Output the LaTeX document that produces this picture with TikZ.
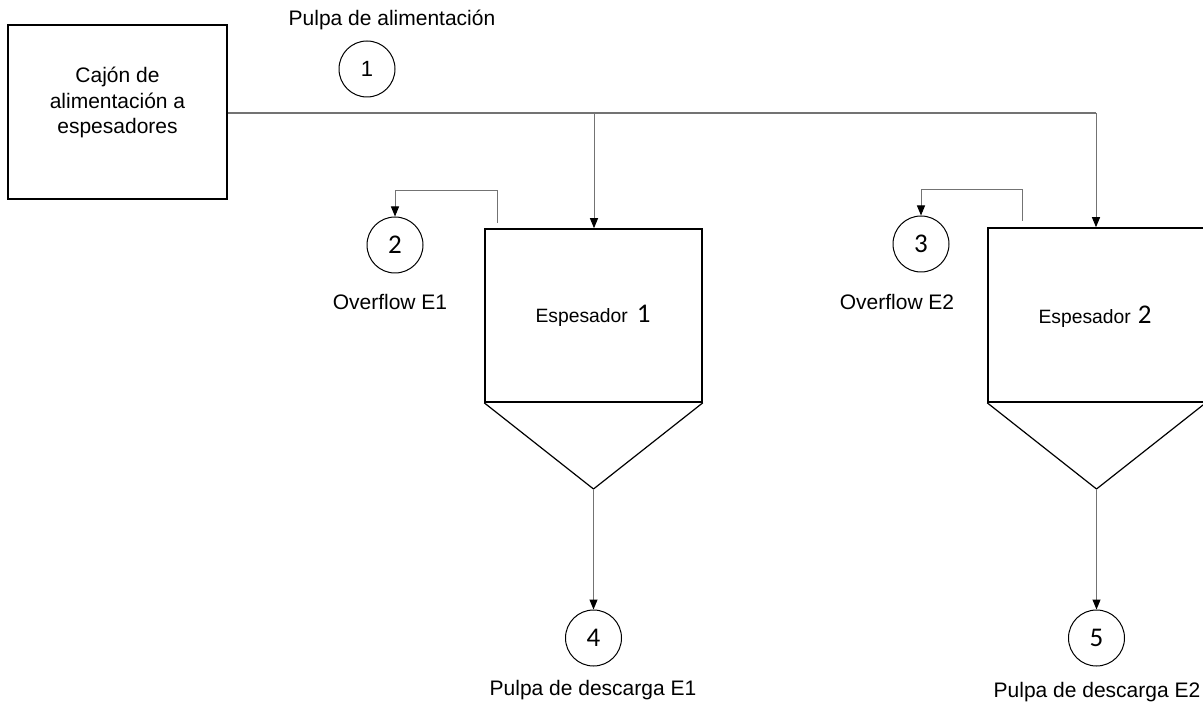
\documentclass[tikz,border=0pt]{standalone}
\usepackage{fontspec}
\setmainfont{Liberation Sans}
\newfontfamily\calib{Carlito}
\usetikzlibrary{arrows.meta,calc}
\begin{document}
\begin{tikzpicture}[x=1pt,y=-1pt,
  unitbox/.style={draw=black,line width=1.6pt,inner sep=0pt},
  stream/.style={draw=black,circle,line width=1pt,minimum size=56pt,inner sep=0pt,font=\calib\fontsize{27}{30}\selectfont},
  lbl/.style={font=\fontsize{21}{25.5}\selectfont,inner sep=0pt},
  pipe/.style={draw=black!55,line width=1pt},
  arr/.style={pipe,-{Triangle[length=10pt,width=8pt,color=black]}},
  eslbl/.style={inner sep=0pt,font=\fontsize{19.3}{22}\selectfont}
]
\useasboundingbox (0,0) rectangle (1203,703);
\fill[white] (0,0) rectangle (1203,703);

% feed box
\node[unitbox,minimum width=219pt,minimum height=174pt] (cajon) at (117.5,112) {};
\node[lbl,align=center] (cajontxt) at (117.5,102.5) {Cajón de\\alimentación a\\espesadores};

% stream 1
\node[stream,font=\fontsize{22}{24}\selectfont] (c1) at (367,69) {1};
\node[lbl] (l1) at (392,20) {Pulpa de alimentación};

% thickeners
\node[unitbox,minimum width=217pt,minimum height=173pt] (esp1) at (593.5,315.5) {};
\node[unitbox,minimum width=217pt,minimum height=174pt] (esp2) at (1096.5,315) {};
\coordinate (apex1) at (593.5,489);
\coordinate (apex2) at (1096.5,489);
\draw[black,line width=1.2pt,line join=miter] (esp1.south west) -- (apex1) -- (esp1.south east);
\draw[black,line width=1.2pt,line join=miter] (esp2.south west) -- (apex2) -- (esp2.south east);
\node[eslbl] (e1txt) at (593,316) {Espesador\hspace{9pt}{\calib\fontsize{27}{28}\selectfont 1}};
\node[eslbl] (e2txt) at (1095,317) {Espesador\hspace{7pt}{\calib\fontsize{27}{28}\selectfont 2}};

% feed line
\coordinate (j1) at (594,113);
\coordinate (j2) at (1096,113);
\draw[pipe,line width=1.3pt] (cajon.east |- j1) -- (j2);
\draw[arr] (j1) -- (j1 |- esp1.north);
\draw[arr] (j2) -- (j2 |- esp2.north);

% overflow streams
\node[stream] (c2) at (395,245) {2};
\node[stream] (c3) at (921,244) {3};
\node[lbl] (l2) at (390,302) {Overflow E1};
\node[lbl] (l3) at (897,302) {Overflow E2};
\coordinate (o1) at (497,223);
\coordinate (o2) at (1022,221);
\draw[arr] (o1) -- ++(0,-32) -| (c2.north);
\draw[arr] (o2) -- ++(0,-31) -| (c3.north);

% underflow streams
\node[stream] (c4) at (593.5,638) {4};
\node[stream] (c5) at (1096.5,638) {5};
\node[lbl] (l4) at (593,690) {Pulpa de descarga E1};
\node[lbl] (l5) at (1097,692) {Pulpa de descarga E2};
\draw[arr] (apex1) -- (c4.north);
\draw[arr] (apex2) -- (c5.north);
\end{tikzpicture}
\end{document}
